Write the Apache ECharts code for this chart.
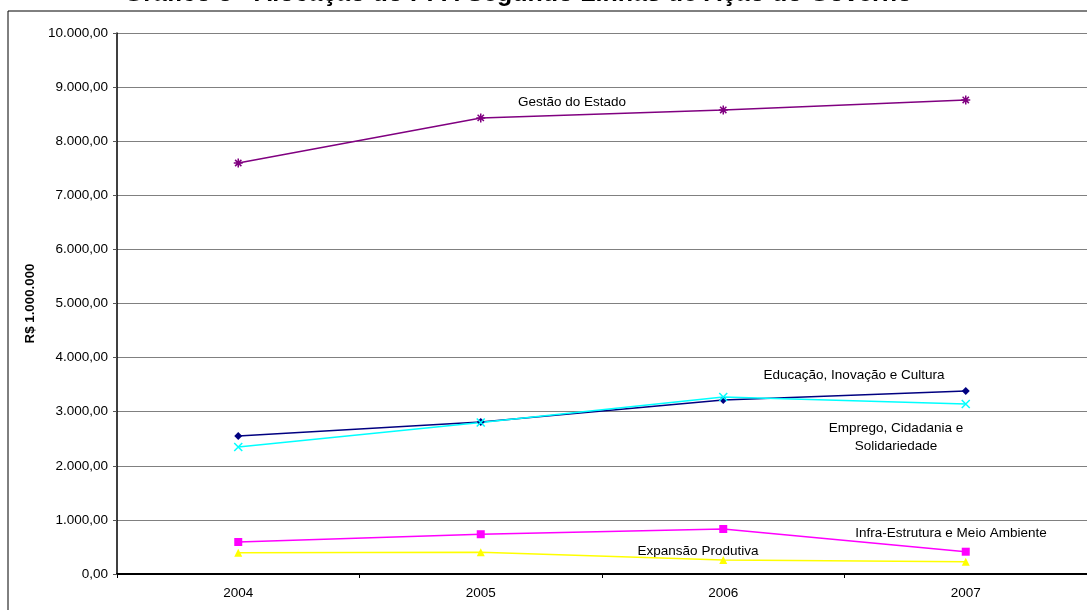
<!DOCTYPE html>
<html><head><meta charset="utf-8">
<script src="https://cdn.jsdelivr.net/npm/echarts@6/dist/echarts.min.js"></script>
<style>html,body{margin:0;padding:0;background:#fff}#c{width:1087px;height:610px}</style>
</head><body><div id="c"></div>
<script>
const categories = ['2004', '2005', '2006', '2007'];
const gestaoEstado = [7597, 8430, 8577, 8762];
const educacao = [2551, 2810, 3216, 3383];
const emprego = [2348, 2800, 3272, 3142];
const infraEstrutura = [592, 735, 832, 412];
const expansao = [394, 400, 259, 227];
const seriesNames = ['Gestão do Estado', 'Educação, Inovação e Cultura', 'Emprego, Cidadania e\nSolidariedade', 'Infra-Estrutura e Meio Ambiente', 'Expansão Produtiva'];
const yTicks = [0, 1000, 2000, 3000, 4000, 5000, 6000, 7000, 8000, 9000, 10000];
const titleText = 'Gráfico 3 - Alocação do PPA Segundo Linhas de Ação do Governo';
const yName = 'R$ 1.000.000';

function fmt(v) {
  const s = Math.round(v).toString().replace(/\B(?=(\d{3})+(?!\d))/g, '.');
  return s + ',00';
}
const FONT = 'Liberation Sans, Arial, sans-serif';
const asterisk = 'path://M0,5L10,5M5,0L5,10M1.5,1.5L8.5,8.5M8.5,1.5L1.5,8.5';
const cross = 'path://M0,0L10,10M10,0L0,10';

function mk(name, data, color, symbol, size, stroke) {
  return {
    name, type: 'line', data, symbol, symbolSize: size,
    lineStyle: { color, width: 1.5 },
    itemStyle: stroke ? { color: 'rgba(0,0,0,0)', borderColor: color, borderWidth: 1.5 } : { color },
    emphasis: { disabled: true }, animation: false
  };
}

const LBL = '13.5px ' + FONT;
const chart = echarts.init(document.getElementById('c'), null, { renderer: 'canvas' });
chart.setOption({
  backgroundColor: '#fff',
  animation: false,
  grid: { left: 117, top: 33, right: -1, bottom: 36 },
  xAxis: {
    type: 'category', data: categories, boundaryGap: true,
    axisLine: { lineStyle: { color: '#000', width: 2 } },
    axisTick: { show: true, length: 4, alignWithLabel: false, lineStyle: { color: '#000' } },
    axisLabel: { color: '#000', fontFamily: FONT, fontSize: 13.5, margin: 12 },
    splitLine: { show: false }
  },
  yAxis: {
    type: 'value', min: yTicks[0], max: yTicks[yTicks.length - 1], interval: 1000,
    name: yName, nameLocation: 'middle', nameGap: 80, nameRotate: 90,
    nameTextStyle: { fontFamily: FONT, fontSize: 13.3, fontWeight: 'bold', color: '#000' },
    axisLine: { show: true, lineStyle: { color: '#000', width: 1.5 } },
    axisTick: { show: true, length: 4, lineStyle: { color: '#555' } },
    axisLabel: { color: '#000', fontFamily: FONT, fontSize: 13.5, margin: 9, formatter: fmt },
    splitLine: { show: true, lineStyle: { color: '#808080', width: 1 } }
  },
  series: [
    mk(seriesNames[0], gestaoEstado, '#800080', asterisk, 9, true),
    mk(seriesNames[1], educacao, '#000080', 'diamond', 8, false),
    mk(seriesNames[2], emprego, '#00FFFF', cross, 8, true),
    mk(seriesNames[3], infraEstrutura, '#FF00FF', 'rect', 8, false),
    mk(seriesNames[4], expansao, '#FFFF00', 'triangle', 8, false)
  ],
  graphic: [
    { type: 'rect', shape: { x: 8, y: 11, width: 1200, height: 800 }, style: { fill: 'none', stroke: '#000', lineWidth: 1 }, z: 100 },
    { type: 'text', x: 518, y: 7, style: { text: titleText, font: 'bold 25px ' + FONT, fill: '#000', textAlign: 'center', textVerticalAlign: 'bottom' } },
    { type: 'text', x: 572, y: 102, style: { text: seriesNames[0], font: LBL, fill: '#000', textAlign: 'center', textVerticalAlign: 'middle' } },
    { type: 'text', x: 854, y: 375, style: { text: seriesNames[1], font: LBL, fill: '#000', textAlign: 'center', textVerticalAlign: 'middle' } },
    { type: 'text', x: 896, y: 437, style: { text: seriesNames[2], font: LBL, fill: '#000', textAlign: 'center', textVerticalAlign: 'middle', lineHeight: 18 } },
    { type: 'text', x: 951, y: 533, style: { text: seriesNames[3], font: LBL, fill: '#000', textAlign: 'center', textVerticalAlign: 'middle' } },
    { type: 'text', x: 698, y: 551, style: { text: seriesNames[4], font: LBL, fill: '#000', textAlign: 'center', textVerticalAlign: 'middle' } }
  ]
});
</script></body></html>
